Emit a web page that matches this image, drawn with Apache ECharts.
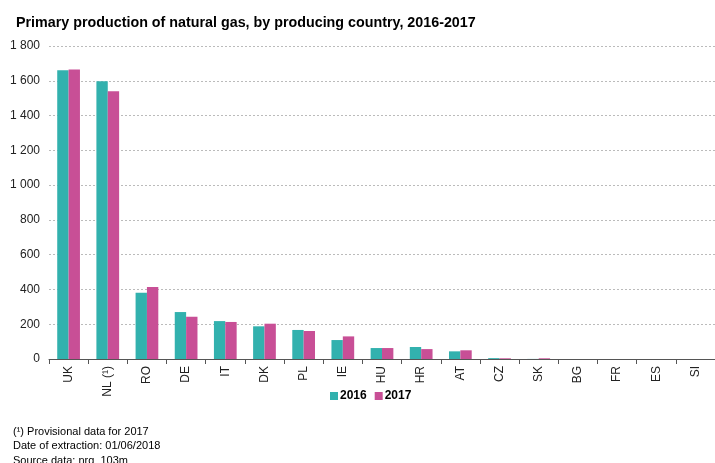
<!DOCTYPE html>
<html><head><meta charset="utf-8">
<script src="https://cdn.jsdelivr.net/npm/echarts@6/dist/echarts.min.js"></script>
<style>html,body{margin:0;padding:0;background:#fff}#c{width:715px;height:463px}</style>
</head><body><div id="c"></div>
<script>
var categories = ["UK","NL (¹)","RO","DE","IT","DK","PL","IE","HU","HR","AT","CZ","SK","BG","FR","ES","SI"];
var values2016 = [1661,1598,381,270,218,188,167,109,63,69,44,5,0.5,0.1,0.1,0.1,0.1];
var values2017 = [1665,1540,414,243,213,203,161,130,63,57,50,4,4,0.1,0.1,0.1,0.1];
var yTicks = [0,200,400,600,800,1000,1200,1400,1600,1800];
var footnotes = ["(¹) Provisional data for 2017","Date of extraction: 01/06/2018","Source data: nrg_103m"];

var chart = echarts.init(document.getElementById('c'));
function fmt(v){ return String(v).replace(/\B(?=(\d{3})+(?!\d))/g,' '); }
chart.setOption({
  animation:false,
  title:{text:'Primary production of natural gas, by producing country, 2016-2017',left:11,top:11,
    textStyle:{fontFamily:'Liberation Sans, Arial',fontSize:14.3,fontWeight:'bold',color:'#000'}},
  graphic: footnotes.map(function(t,i){return {type:'text',left:13,top:426+i*14.5,
    style:{text:t,fontFamily:'Liberation Sans, Arial',fontSize:11,fill:'#000'}};}),
  legend:{data:['2016','2017'],left:325,top:385,itemWidth:8,itemHeight:8,itemGap:8,icon:'rect',
    textStyle:{fontFamily:'Liberation Sans, Arial',fontSize:12,fontWeight:'bold',color:'#000',padding:[0,0,0,-3]}},
  grid:{left:49,right:-7,top:46,bottom:104,containLabel:false},
  xAxis:{type:'category',data:categories,
    axisLine:{lineStyle:{color:'#555',width:1}},
    axisTick:{show:true,length:5,lineStyle:{color:'#555'}},
    axisLabel:{rotate:90,fontFamily:'Liberation Sans, Arial',fontSize:12,color:'#222',margin:7}},
  yAxis:{type:'value',min:0,max:1800,interval:200,
    axisLine:{show:false},axisTick:{show:false},
    axisLabel:{formatter:function(v){return yTicks.indexOf(v)>=0?fmt(v):'';},fontFamily:'Liberation Sans, Arial',fontSize:12,color:'#222',margin:9},
    splitLine:{lineStyle:{color:'#bbb',type:[2,2],width:1}}},
  series:[
    {name:'2016',type:'bar',data:values2016,barGap:'0%',barCategoryGap:'42%',itemStyle:{color:'#32B1AE'}},
    {name:'2017',type:'bar',data:values2017,itemStyle:{color:'#C84F96'}}
  ]
});
</script></body></html>
